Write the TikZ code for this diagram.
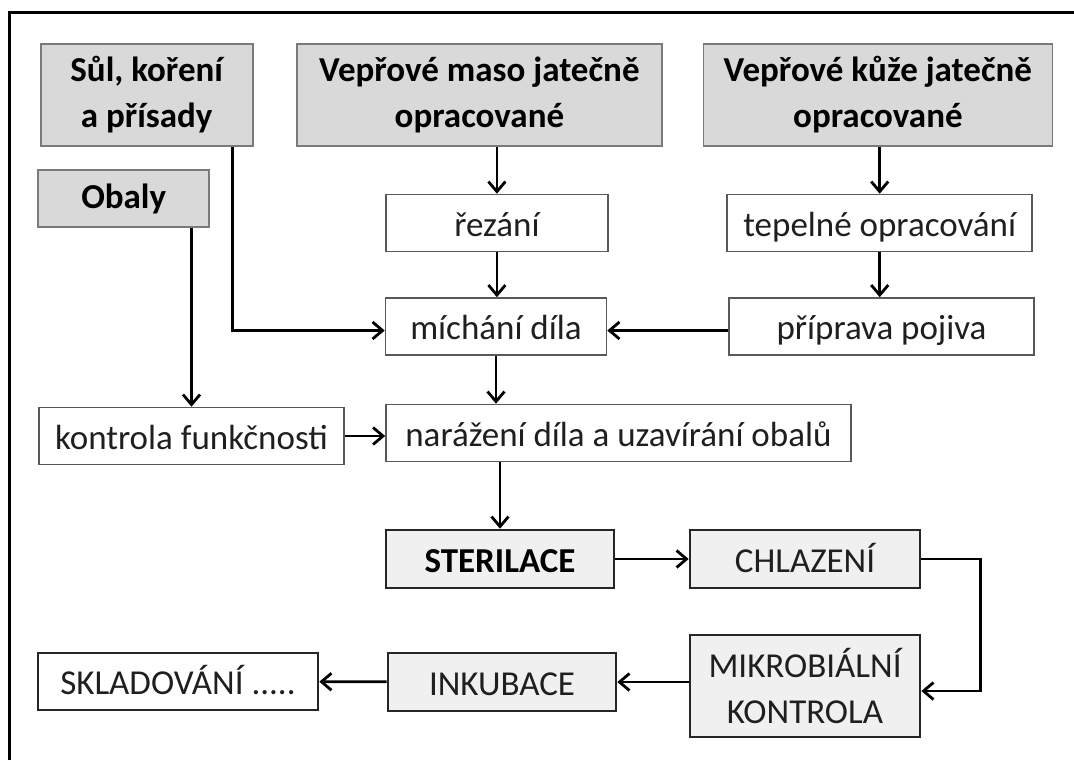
\documentclass[tikz,border=0pt]{standalone}
\usepackage{fontspec}
\setmainfont{Carlito}
\usepackage{xcolor}
\usepackage{tikz}
\usetikzlibrary{arrows.meta,positioning,calc}

\definecolor{hdfill}{HTML}{D9D9D9}
\definecolor{stfill}{HTML}{F0F0F0}
\definecolor{hdline}{HTML}{7A7A7A}
\definecolor{txt}{HTML}{1F1F1F}

\begin{document}
\begin{tikzpicture}[
  x=0.5pt,y=-0.5pt,
  box/.style={rectangle,inner sep=0pt,align=center,text=txt,
    font=\fontsize{17.5}{23}\selectfont},
  one/.style={text height=16pt,text depth=3pt},
  hd/.style={box,draw=hdline,line width=0.8pt,fill=hdfill,text=black,
    font=\fontsize{17.5}{23}\selectfont\bfseries,minimum height=51pt},
  pr/.style={box,one,draw=black!65,line width=0.8pt,fill=white,minimum height=28.5pt},
  st/.style={box,one,draw=black!85,line width=1.3pt,fill=stfill,minimum height=29pt},
  ar/.style={-{Straight Barb[length=5pt,width=8.5pt]},line width=1.4pt}
]
\useasboundingbox (0,0) rectangle (1074,760);
\draw[line width=1.5pt] (9,760) -- (9,12) -- (1074,12);

\node[hd,minimum width=106pt]   (sul)   at (146.7,95) {Sůl, koření\\a přísady};
\node[hd,minimum width=182.5pt] (maso)  at (479.4,95) {Vepřové maso jatečně\\opracované};
\node[hd,minimum width=174.5pt] (kuze)  at (877.9,95) {Vepřové kůže jatečně\\opracované};
\node[hd,text height=14pt,text depth=4pt,minimum width=85.5pt,minimum height=28.5pt]
                                (obaly) at (123.7,198.5) {Obaly};

\node[pr,minimum width=111pt]   (rezani)   at (496.9,223)   {řezání};
\node[pr,minimum width=152.5pt] (tepelne)  at (879.7,223)   {tepelné opracování};
\node[pr,minimum width=110.5pt] (michani)  at (496,326.5)   {míchání díla};
\node[pr,minimum width=152.5pt] (pojiva)   at (881.5,326.5) {příprava pojiva};
\node[pr,minimum width=152.5pt] (kontrola) at (191.5,436)   {kontrola funkčnosti};
\node[pr,minimum width=232.5pt] (narazeni) at (618.5,433)   {narážení díla a uzavírání obalů};

\node[st,minimum width=114pt,font=\fontsize{17.5}{23}\selectfont\bfseries,text=black]
                                (steril) at (500,559) {STERILACE};
\node[st,minimum width=115pt]   (chlaz)  at (805,559) {CHLAZENÍ};
\node[box,draw=black!85,line width=1.3pt,fill=stfill,minimum width=115pt,minimum height=51pt]
                                (mikro)  at (805,686) {MIKROBIÁLNÍ\\KONTROLA};
\node[st,minimum width=114pt]   (inkub)  at (502,682) {INKUBACE};
\node[st,fill=white,minimum width=140pt,minimum height=28.5pt] (sklad) at (178,681.5) {SKLADOVÁNÍ .....};

\draw[ar] (rezani.north |- maso.south) -- (rezani.north);
\draw[ar] (rezani.south) -- (rezani.south |- michani.north);
\draw[ar] (tepelne.north |- kuze.south) -- (tepelne.north);
\draw[ar] (tepelne.south) -- (tepelne.south |- pojiva.north);
\draw[ar] ([yshift=-2pt]pojiva.west) -- ([yshift=-2pt]michani.east);
\draw[ar] ([xshift=-10.5pt]sul.south east) |- ([yshift=-2pt]michani.west);
\draw[ar] (kontrola.north |- obaly.south) -- (kontrola.north);
\draw[ar] (michani.south) -- (michani.south |- narazeni.north);
\draw[ar] (kontrola.east) -- (kontrola.east -| narazeni.west);
\draw[ar] (steril.north |- narazeni.south) -- (steril.north);
\draw[ar] (steril) -- (chlaz);
\draw[ar] (chlaz.east) -- ++(59,0) |- ([yshift=-2.5pt]mikro.east);
\draw[ar] (mikro.west |- inkub.east) -- (inkub.east);
\draw[ar] (inkub) -- (sklad);
\end{tikzpicture}
\end{document}
